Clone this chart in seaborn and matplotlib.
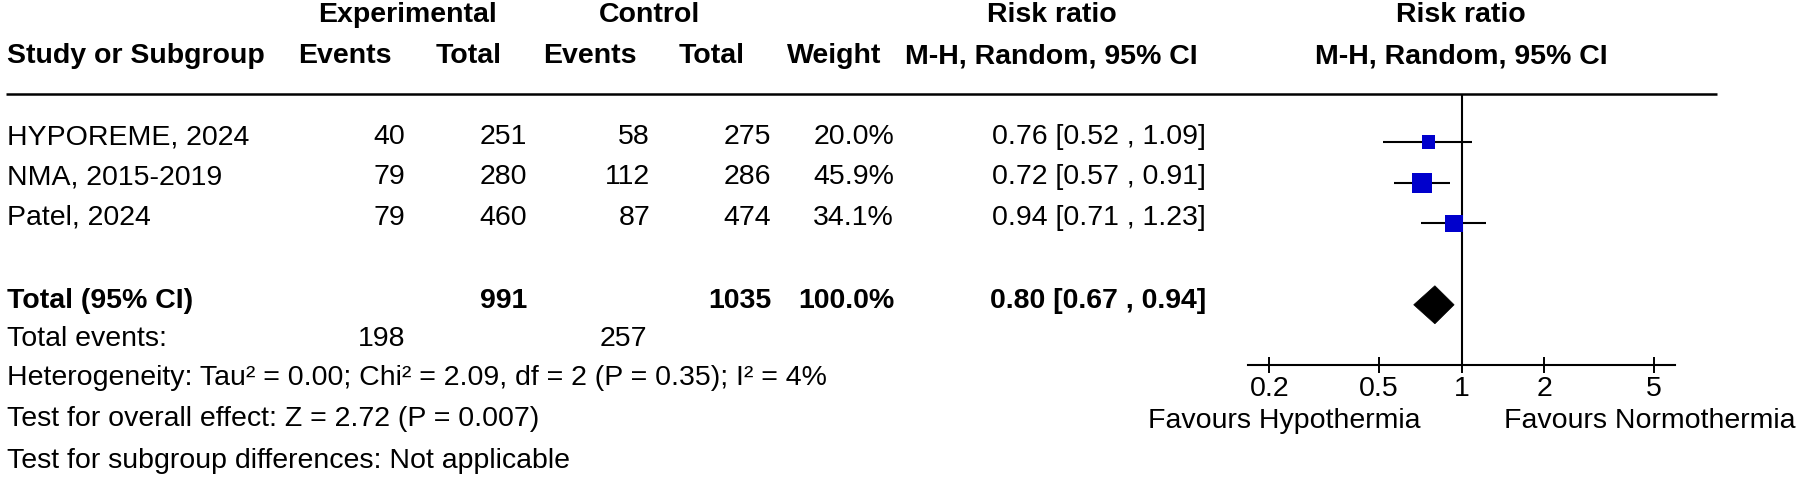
import numpy as np
import pandas as pd
import matplotlib
matplotlib.use("Agg")
import matplotlib.pyplot as plt
from matplotlib.patches import Polygon
from matplotlib.ticker import NullLocator
import seaborn as sns

# ---------------- data ----------------
studies = ["HYPOREME, 2024", "NMA, 2015-2019", "Patel, 2024"]
exp_events = [40, 79, 79]
exp_total = [251, 280, 460]
ctrl_events = [58, 112, 87]
ctrl_total = [275, 286, 474]
weights = [20.0, 45.9, 34.1]
rr = [0.76, 0.72, 0.94]
ci_low = [0.52, 0.57, 0.71]
ci_high = [1.09, 0.91, 1.23]

total_label = "Total (95% CI)"
total_exp = 991
total_ctrl = 1035
total_weight = 100.0
total_rr = 0.80
total_low = 0.67
total_high = 0.94
total_exp_events = 198
total_ctrl_events = 257

heterogeneity = "Heterogeneity: Tau² = 0.00; Chi² = 2.09, df = 2 (P = 0.35); I² = 4%"
overall = "Test for overall effect: Z = 2.72 (P = 0.007)"
subgroup = "Test for subgroup differences: Not applicable"

ticks = [0.2, 0.5, 1, 2, 5]
tick_labels = ["0.2", "0.5", "1", "2", "5"]
favours_left = "Favours Hypothermia"
favours_right = "Favours Normothermia"

# ---------------- style ----------------
sns.set_style("white")
plt.rcParams["font.family"] = ["Liberation Sans", "DejaVu Sans"]
FS = 20.5
W, H = 1800, 482

fig = plt.figure(figsize=(W / 100, H / 100), dpi=100)

# text layer in pixel coordinates
tax = fig.add_axes([0, 0, 1, 1])
tax.set_xlim(0, W)
tax.set_ylim(H, 0)
tax.axis("off")


def txt(x, y, s, ha="left", bold=False):
    tax.text(x, y, s, ha=ha, va="baseline", fontsize=FS,
             fontweight="bold" if bold else "normal", color="black")


# headers
txt(407, 22, "Experimental", "center", True)
txt(650, 22, "Control", "center", True)
txt(1052, 22, "Risk ratio", "center", True)
txt(1461, 22, "Risk ratio", "center", True)
txt(7, 63, "Study or Subgroup", "left", True)
txt(345, 63, "Events", "center", True)
txt(469, 63, "Total", "center", True)
txt(590, 63, "Events", "center", True)
txt(712, 63, "Total", "center", True)
txt(834, 63, "Weight", "center", True)
txt(1051, 63, "M-H, Random, 95% CI", "center", True)
txt(1461, 63, "M-H, Random, 95% CI", "center", True)

tax.hlines(94, 6, 1717, color="black", lw=1.8)

col_x = [405, 527, 650, 771, 894, 1206]
row_base = [144, 184.5, 225]
for i, name in enumerate(studies):
    y = row_base[i]
    txt(7, y, name)
    txt(col_x[0], y, f"{exp_events[i]}", "right")
    txt(col_x[1], y, f"{exp_total[i]}", "right")
    txt(col_x[2], y, f"{ctrl_events[i]}", "right")
    txt(col_x[3], y, f"{ctrl_total[i]}", "right")
    txt(col_x[4], y, f"{weights[i]:.1f}%", "right")
    txt(col_x[5], y, f"{rr[i]:.2f} [{ci_low[i]:.2f} , {ci_high[i]:.2f}]", "right")

ty = 307.5
txt(7, ty, total_label, bold=True)
txt(col_x[1], ty, f"{total_exp}", "right", True)
txt(col_x[3], ty, f"{total_ctrl}", "right", True)
txt(col_x[4], ty, f"{total_weight:.1f}%", "right", True)
txt(col_x[5], ty, f"{total_rr:.2f} [{total_low:.2f} , {total_high:.2f}]", "right", True)

txt(7, 346, "Total events:")
txt(col_x[0], 346, f"{total_exp_events}", "right")
txt(col_x[2] - 3, 346, f"{total_ctrl_events}", "right")
txt(7, 385, heterogeneity)
txt(7, 426.5, overall)
txt(7, 467.5, subgroup)

# ---------------- forest panel ----------------
ax_left, ax_right = 1247.7, 1675.3
ax_top, ax_bot = 94, 365
fax = fig.add_axes([ax_left / W, (H - ax_bot) / H,
                    (ax_right - ax_left) / W, (ax_bot - ax_top) / H])
fax.set_xscale("log")
fax.set_xlim(1 / 6, 6)
fax.set_ylim(5.48, -1.18)
fax.patch.set_alpha(0)

df = pd.DataFrame({"row": np.arange(len(studies)), "rr": rr,
                   "lo": ci_low, "hi": ci_high, "w": weights})
fax.hlines(df["row"], df["lo"], df["hi"], color="black", lw=1.5, zorder=2)
sns.scatterplot(data=df, x="rr", y="row", size="w", sizes=(0, 460),
                size_norm=(0, 100), marker="s", color="#0000CC",
                linewidth=0, legend=False, ax=fax, zorder=3)

total_row = len(studies) + 1
h = 0.467
fax.add_patch(Polygon([(total_low, total_row), (total_rr, total_row - h),
                       (total_high, total_row), (total_rr, total_row + h)],
                      closed=True, facecolor="black", edgecolor="black",
                      lw=0.5, zorder=3))
fax.axvline(1, color="black", lw=1.5, zorder=1)

for s in ["top", "right", "left"]:
    fax.spines[s].set_visible(False)
fax.spines["bottom"].set_linewidth(1.5)
fax.spines["bottom"].set_color("black")
fax.set_xticks(ticks)
fax.set_xticklabels(tick_labels)
fax.xaxis.set_minor_locator(NullLocator())
fax.tick_params(axis="x", which="major", bottom=True, direction="inout",
                length=11.5, width=1.4, labelsize=FS, pad=2, colors="black")
fax.set_yticks([])
fax.set_xlabel("")
fax.set_ylabel("")

txt(1420, 428, favours_left, "right")
txt(1504, 428, favours_right, "left")

fig.savefig("out.png", dpi=100)
